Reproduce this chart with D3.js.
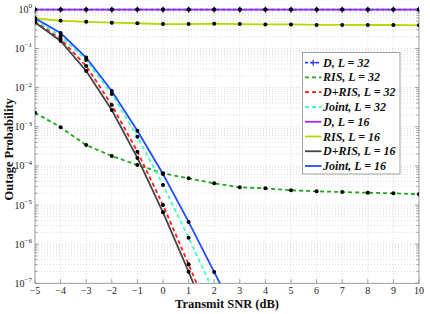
<!DOCTYPE html>
<meta charset="utf-8">
<style>
    body { margin: 0; background: #fff; }
    text { font-family: "Liberation Serif", "DejaVu Serif", "Times New Roman", serif; }
    .grid line { stroke: #c8c8c8; stroke-width: 0.6; stroke-dasharray: 1,2; }
    .frame { fill: none; stroke: #8c8c8c; stroke-width: 0.8; }
    .tick-mark { stroke: #8c8c8c; stroke-width: 0.8; }
    .tick-label { font-size: 10px; fill: #222; }
    .axis-title { font-size: 12.5px; font-weight: bold; fill: #111; }
    .legend text { font-size: 12px; font-weight: bold; font-style: italic; fill: #111; }
</style>
<svg width="430" height="314"></svg>
<script src="https://d3js.org/d3.v7.min.js"></script>
<script>

    // transmit SNR in dB
    var snr = [-5, -4, -3, -2, -1, 0, 1, 2, 3, 4, 5, 6, 7, 8, 9, 10];
    var snrLow = [-5, -4, -3, -2, -1, 0, 1, 2, 3];

    // outage probability
    var dL32 = [0.985, 0.985, 0.985, 0.985, 0.985, 0.985, 0.985, 0.985, 0.985, 0.985, 0.985, 0.985, 0.985, 0.985, 0.985, 0.985];
    var risL32 = [2.28e-3, 9.7e-4, 3.4e-4, 1.79e-4, 1.05e-4, 6.46e-5, 4.8e-5, 3.58e-5, 2.83e-5, 2.67e-5, 2.38e-5, 2.24e-5, 2.15e-5, 2.06e-5, 1.99e-5, 1.88e-5];
    var drisL32 = [0.50, 0.174, 0.0356, 3.59e-3, 2.3e-4, 1.0e-5, 3.05e-7, 8.5e-9, 2e-10];
    var jointL32 = [0.53, 0.208, 0.0507, 6.85e-3, 5.56e-4, 3.24e-5, 1.46e-6, 5.7e-8, 1.5e-9];
    var dL16 = [0.985, 0.985, 0.985, 0.985, 0.985, 0.985, 0.985, 0.985, 0.985, 0.985, 0.985, 0.985, 0.985, 0.985, 0.985, 0.985];
    var risL16 = [0.589, 0.51, 0.48, 0.455, 0.44, 0.42, 0.42, 0.43, 0.42, 0.41, 0.41, 0.40, 0.40, 0.397, 0.397, 0.39];
    var drisL16 = [0.46, 0.155, 0.0265, 2.67e-3, 1.6e-4, 6.5e-6, 1.98e-7, 5e-9, 1e-10];
    var jointL16 = [0.59, 0.248, 0.0587, 8.18e-3, 7.9e-4, 6.2e-5, 3.7e-6, 1.94e-7, 1.0e-8];

    var xTicks = [-5, -4, -3, -2, -1, 0, 1, 2, 3, 4, 5, 6, 7, 8, 9, 10];
    var yExponents = [0, -1, -2, -3, -4, -5, -6, -7];

    var series = [
        {name: "D", L: 32, x: snr, y: dL32, color: "#2a3cff", dash: "3,2.5", plus: true},
        {name: "RIS", L: 32, x: snr, y: risL32, color: "#1fa81f", dash: "4,3"},
        {name: "D+RIS", L: 32, x: snrLow, y: drisL32, color: "#ff1a1a", dash: "4,3"},
        {name: "Joint", L: 32, x: snrLow, y: jointL32, color: "#3fffc0", dash: "4,3"},
        {name: "D", L: 16, x: snr, y: dL16, color: "#9a2cf0", dash: null},
        {name: "RIS", L: 16, x: snr, y: risL16, color: "#bcd600", dash: null},
        {name: "D+RIS", L: 16, x: snrLow, y: drisL16, color: "#454545", dash: null},
        {name: "Joint", L: 16, x: snrLow, y: jointL16, color: "#1f4dff", dash: null}
    ];

    var svg = d3.select("svg");
    var pl = 35, pr = 419, pt = 9.3, pb = 283.3;

    var x = d3.scaleLinear().domain([-5, 10]).range([pl, pr]);
    var y = d3.scaleLog().domain([1e-7, 1]).range([pb, pt]);

    svg.append("defs").append("clipPath").attr("id", "plot")
        .append("rect").attr("x", pl).attr("y", pt - 3)
        .attr("width", pr - pl).attr("height", pb - pt + 3);

    // grid
    var minor = [];
    yExponents.slice(1).forEach(function (e) {
        for (var m = 1; m < 10; m++) minor.push(m * Math.pow(10, e));
    });
    minor.push(1);

    var grid = svg.append("g").attr("class", "grid");
    grid.selectAll(".gy").data(minor).enter().append("line")
        .attr("x1", pl).attr("x2", pr)
        .attr("y1", function (d) { return y(d); })
        .attr("y2", function (d) { return y(d); });
    grid.selectAll(".gx").data(xTicks).enter().append("line")
        .attr("y1", pt).attr("y2", pb)
        .attr("x1", function (d) { return x(d); })
        .attr("x2", function (d) { return x(d); });

    // ticks
    var ticks = svg.append("g");
    ticks.selectAll(".ty").data(minor).enter().append("path")
        .attr("class", "tick-mark")
        .attr("d", function (d) {
            var len = Math.abs(Math.log10(d) - Math.round(Math.log10(d))) < 1e-9 ? 4 : 2.5;
            var yy = y(d);
            return "M" + pl + "," + yy + "h" + len + "M" + pr + "," + yy + "h" + (-len);
        });
    ticks.selectAll(".tx").data(xTicks).enter().append("path")
        .attr("class", "tick-mark")
        .attr("d", function (d) {
            var xx = x(d);
            return "M" + xx + "," + pb + "v-4M" + xx + "," + pt + "v4";
        });

    svg.append("rect").attr("class", "frame")
        .attr("x", pl).attr("y", pt)
        .attr("width", pr - pl).attr("height", pb - pt);

    // tick labels
    svg.selectAll(".xl").data(xTicks).enter().append("text")
        .attr("class", "tick-label")
        .attr("x", function (d) { return x(d); })
        .attr("y", pb + 11)
        .attr("text-anchor", "middle")
        .text(function (d) { return d < 0 ? "\u2212" + (-d) : d; });

    var yl = svg.selectAll(".yl").data(yExponents).enter().append("text")
        .attr("class", "tick-label")
        .attr("x", pl - 3)
        .attr("y", function (d) { return y(Math.pow(10, d)) + 3.5; })
        .attr("text-anchor", "end");
    yl.append("tspan").text("10");
    yl.append("tspan").attr("dy", -4.5).style("font-size", "7px")
        .text(function (d) { return d < 0 ? "\u2212" + (-d) : d; });

    svg.append("text").attr("class", "axis-title")
        .attr("x", (pl + pr) / 2).attr("y", 307.5)
        .attr("text-anchor", "middle").text("Transmit SNR (dB)");
    svg.append("text").attr("class", "axis-title")
        .attr("transform", "translate(13," + ((pt + pb) / 2 + 3) + ") rotate(-90)")
        .attr("text-anchor", "middle").text("Outage Probability");

    // curves
    var plot = svg.append("g").attr("clip-path", "url(#plot)");
    var line = d3.line()
        .x(function (d) { return x(d[0]); })
        .y(function (d) { return y(d[1]); });

    series.forEach(function (s) {
        var pts = s.x.map(function (v, i) { return [v, s.y[i]]; });
        plot.append("path").datum(pts)
            .attr("fill", "none")
            .attr("stroke", s.color)
            .attr("stroke-width", 1.8)
            .attr("stroke-dasharray", s.dash)
            .attr("d", line);
        if (s.plus) {
            plot.selectAll(null).data(pts).enter().append("path")
                .attr("d", function (d) {
                    var cx = x(d[0]), cy = y(d[1]);
                    return "M" + (cx - 3) + "," + cy + "h6M" + cx + "," + (cy - 3) + "v6";
                })
                .attr("stroke", s.color).attr("stroke-width", 1.2);
        }
    });

    // simulation points
    series.forEach(function (s) {
        var pts = s.x.map(function (v, i) { return [v, s.y[i]]; })
            .filter(function (d) { return d[1] >= 1e-7; });
        plot.selectAll(null).data(pts).enter().append("circle")
            .attr("cx", function (d) { return x(d[0]); })
            .attr("cy", function (d) { return y(d[1]); })
            .attr("r", 2)
            .attr("fill", "#000");
    });

    // legend
    var lg = svg.append("g").attr("class", "legend");
    lg.append("rect")
        .attr("x", 302.5).attr("y", 52.5).attr("width", 97.5).attr("height", 121.5)
        .attr("fill", "#fff").attr("stroke", "#8c8c8c").attr("stroke-width", 0.8);
    series.forEach(function (s, i) {
        var yy = 62.7 + i * 14.76;
        lg.append("line")
            .attr("x1", 305).attr("x2", 321.5).attr("y1", yy).attr("y2", yy)
            .attr("stroke", s.color).attr("stroke-width", 1.8)
            .attr("stroke-dasharray", s.dash);
        if (s.plus) {
            lg.append("path").attr("d", "M" + 310.2 + "," + yy + "h6M" + 313.2 + "," + (yy - 3) + "v6")
                .attr("stroke", s.color).attr("stroke-width", 1.2);
        }
        var t = lg.append("text").attr("x", 323).attr("y", yy + 4);
        t.text(s.name + ", L = " + s.L);
    });

</script>
